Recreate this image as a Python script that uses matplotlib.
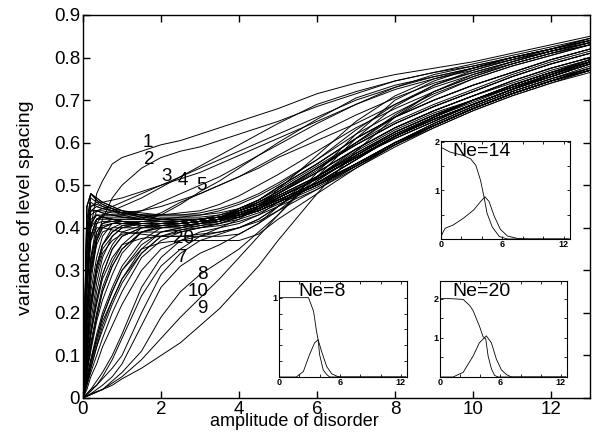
import matplotlib
matplotlib.use("Agg")
import matplotlib.pyplot as plt
from matplotlib.ticker import FixedLocator, FuncFormatter

plt.rcParams['font.family'] = ['Liberation Sans', 'DejaVu Sans']

# ---------------- main chart data ----------------
X = [0, 0.1, 0.2, 0.35, 0.5, 0.75, 1, 1.5, 2, 2.5, 3, 3.5, 4, 4.5, 5, 6, 7, 8, 9, 10, 11, 12, 13]

# labelled curves
curve_1 = [0, .30, .40, .48, .51, .55, .565, .58, .595, .605, .62, .635, .65, .665, .68, .715, .74, .76, .775, .79, .81, .83, .85]
curve_2 = [0, .15, .27, .37, .42, .47, .50, .54, .565, .58, .59, .605, .62, .635, .65, .685, .715, .745, .765, .785, .805, .825, .845]
curve_3 = [0, .20, .33, .41, .43, .44, .45, .47, .495, .52, .545, .57, .595, .62, .645, .69, .72, .745, .765, .78, .80, .82, .84]
curve_4 = [0, .25, .38, .42, .425, .425, .425, .425, .43, .455, .485, .51, .54, .57, .60, .655, .705, .735, .755, .775, .795, .815, .835]
curve_5 = [0, .35, .42, .43, .425, .42, .42, .42, .435, .46, .48, .50, .52, .54, .565, .605, .645, .69, .73, .76, .785, .81, .83]
curve_7 = [0, .005, .01, .02, .03, .05, .08, .17, .26, .31, .34, .36, .385, .41, .44, .51, .57, .625, .665, .70, .735, .765, .79]
curve_8 = [0, .005, .01, .015, .02, .04, .06, .11, .19, .25, .29, .32, .35, .39, .43, .52, .61, .685, .735, .77, .795, .815, .835]
curve_9 = [0, .004, .008, .014, .02, .03, .045, .07, .10, .13, .17, .21, .26, .31, .37, .48, .58, .66, .72, .76, .79, .815, .835]
curve_10 = [0, .004, .008, .014, .02, .035, .05, .09, .14, .19, .235, .28, .33, .38, .43, .53, .62, .70, .745, .775, .80, .82, .84]
curve_20 = [0, .25, .37, .40, .40, .395, .39, .385, .38, .38, .38, .38, .385, .41, .45, .52, .57, .62, .66, .70, .73, .76, .79]

# further curves joining the upper branch
upper_a = [0, .30, .40, .44, .445, .45, .46, .48, .50, .52, .54, .56, .58, .60, .62, .66, .70, .73, .755, .775, .80, .82, .845]
upper_b = [0, .35, .43, .44, .44, .435, .435, .44, .45, .465, .48, .50, .52, .545, .57, .62, .665, .705, .74, .765, .79, .815, .84]
upper_c = [0, .40, .46, .45, .445, .44, .435, .43, .43, .435, .44, .455, .475, .50, .525, .58, .635, .68, .72, .755, .785, .81, .835]
upper_d = [0, .28, .38, .42, .43, .43, .43, .43, .43, .43, .435, .445, .46, .48, .505, .56, .62, .67, .715, .75, .78, .805, .83]
upper_e = [0, .10, .20, .30, .35, .38, .40, .41, .41, .41, .415, .42, .43, .45, .48, .54, .60, .665, .72, .755, .785, .81, .83]
upper_f = [0, .38, .45, .46, .46, .465, .47, .485, .50, .515, .53, .55, .57, .59, .61, .65, .69, .73, .76, .78, .80, .82, .84]
upper_g = [0, .30, .41, .43, .43, .43, .43, .44, .46, .48, .50, .52, .545, .57, .595, .645, .69, .725, .75, .77, .795, .82, .845]
upper_h = [0, .20, .32, .39, .41, .42, .42, .42, .42, .425, .43, .44, .455, .475, .50, .56, .63, .69, .735, .765, .79, .815, .835]
upper_i = [0, .45, .48, .47, .46, .45, .44, .435, .43, .43, .43, .435, .445, .46, .48, .535, .60, .66, .71, .75, .78, .805, .83]
upper_j = [0, .01, .02, .03, .05, .09, .14, .24, .31, .35, .38, .40, .42, .45, .49, .57, .65, .71, .75, .775, .80, .82, .84]

# slow S-shaped curves
slow_a = [0, .01, .02, .04, .06, .10, .15, .26, .33, .37, .39, .40, .41, .43, .46, .52, .58, .63, .67, .70, .735, .765, .79]
slow_b = [0, .008, .016, .03, .045, .07, .10, .20, .29, .34, .37, .385, .40, .42, .45, .52, .585, .635, .675, .71, .74, .77, .795]

# lower bundle
lower_01 = [0, .42, .47, .46, .45, .44, .43, .42, .415, .415, .42, .425, .435, .45, .47, .515, .565, .615, .655, .69, .725, .755, .785]
lower_02 = [0, .40, .48, .47, .46, .45, .44, .43, .42, .42, .42, .425, .44, .455, .48, .53, .585, .635, .675, .71, .745, .775, .80]
lower_03 = [0, .38, .45, .455, .45, .445, .44, .43, .42, .415, .42, .425, .43, .445, .465, .505, .56, .615, .66, .70, .73, .76, .79]
lower_04 = [0, .33, .41, .43, .425, .42, .415, .41, .41, .41, .415, .42, .43, .44, .46, .50, .55, .60, .64, .68, .715, .745, .77]
lower_05 = [0, .30, .40, .42, .42, .42, .415, .41, .41, .415, .42, .425, .435, .45, .47, .515, .565, .615, .655, .69, .725, .755, .785]
lower_06 = [0, .22, .33, .39, .41, .415, .415, .41, .41, .41, .415, .42, .44, .455, .48, .53, .585, .635, .675, .71, .745, .775, .80]
lower_07 = [0, .20, .31, .38, .405, .41, .41, .41, .41, .415, .42, .43, .445, .465, .49, .545, .60, .65, .69, .725, .76, .79, .815]
lower_08 = [0, .15, .25, .33, .38, .41, .415, .415, .41, .41, .415, .42, .43, .445, .465, .505, .56, .615, .66, .70, .73, .76, .79]
lower_09 = [0, .13, .23, .31, .36, .40, .41, .415, .415, .415, .42, .425, .435, .45, .47, .515, .565, .615, .655, .69, .725, .755, .785]
lower_10 = [0, .10, .18, .27, .33, .38, .40, .41, .41, .41, .415, .42, .43, .44, .46, .50, .55, .60, .64, .68, .715, .745, .77]
lower_11 = [0, .09, .16, .25, .31, .36, .39, .405, .41, .415, .42, .425, .44, .455, .48, .53, .585, .635, .675, .71, .745, .775, .80]
lower_12 = [0, .07, .13, .20, .26, .32, .36, .40, .41, .41, .415, .42, .43, .445, .465, .505, .56, .615, .66, .70, .73, .76, .79]
lower_13 = [0, .06, .11, .18, .23, .29, .34, .39, .405, .41, .415, .42, .435, .45, .47, .515, .565, .615, .655, .69, .725, .755, .785]
lower_14 = [0, .05, .09, .15, .20, .26, .31, .37, .40, .405, .41, .415, .43, .44, .46, .50, .55, .60, .64, .68, .715, .745, .77]
lower_15 = [0, .04, .08, .13, .18, .23, .28, .35, .39, .40, .41, .415, .43, .445, .465, .505, .56, .615, .66, .70, .73, .76, .79]
lower_16 = [0, .03, .07, .12, .16, .22, .27, .34, .38, .39, .40, .41, .425, .44, .46, .50, .55, .60, .64, .68, .715, .745, .77]
lower_17 = [0, .03, .06, .10, .14, .20, .25, .33, .37, .39, .40, .41, .425, .445, .47, .515, .565, .615, .655, .69, .725, .755, .785]
lower_18 = [0, .02, .05, .08, .12, .17, .22, .30, .35, .37, .38, .39, .40, .42, .45, .51, .57, .62, .66, .70, .735, .765, .79]
lower_19 = [0, .35, .44, .45, .445, .44, .435, .43, .425, .425, .425, .43, .44, .455, .475, .52, .57, .62, .66, .695, .73, .76, .785]
lower_20 = [0, .26, .37, .41, .415, .415, .41, .405, .405, .405, .41, .415, .425, .44, .46, .50, .545, .595, .635, .675, .71, .74, .765]
lower_21 = [0, .18, .29, .36, .39, .40, .40, .40, .40, .40, .405, .41, .42, .435, .455, .495, .545, .595, .64, .68, .715, .745, .775]
lower_22 = [0, .12, .21, .29, .34, .37, .385, .39, .39, .395, .40, .405, .415, .43, .45, .49, .54, .59, .635, .675, .71, .74, .77]
lower_23 = [0, .08, .15, .22, .28, .33, .36, .375, .38, .38, .385, .39, .40, .415, .44, .49, .545, .60, .645, .685, .72, .75, .78]
lower_24 = [0, .045, .09, .14, .19, .25, .30, .35, .365, .37, .37, .37, .37, .385, .42, .48, .54, .595, .64, .68, .715, .745, .775]
lower_25 = [0, .45, .48, .465, .455, .445, .435, .425, .42, .42, .42, .425, .435, .45, .475, .52, .575, .625, .665, .70, .735, .765, .795]
lower_26 = [0, .38, .44, .44, .435, .43, .425, .42, .415, .415, .42, .425, .445, .465, .495, .55, .61, .66, .70, .735, .765, .795, .82]
lower_27 = [0, .28, .38, .42, .425, .42, .415, .41, .41, .41, .415, .42, .43, .445, .465, .505, .55, .60, .645, .685, .72, .75, .775]
lower_28 = [0, .18, .30, .37, .40, .41, .41, .41, .41, .41, .415, .42, .44, .46, .485, .54, .595, .645, .685, .72, .755, .785, .81]
lower_29 = [0, .12, .22, .31, .36, .39, .405, .41, .41, .41, .415, .42, .43, .445, .47, .515, .565, .61, .65, .69, .725, .76, .79]
lower_30 = [0, .08, .15, .23, .29, .35, .38, .40, .405, .41, .415, .42, .435, .45, .475, .52, .575, .625, .665, .70, .735, .765, .795]
lower_31 = [0, .06, .12, .19, .25, .31, .35, .39, .40, .405, .41, .42, .425, .44, .46, .50, .545, .595, .64, .68, .715, .745, .77]
lower_32 = [0, .04, .08, .14, .19, .25, .30, .36, .39, .40, .41, .415, .445, .465, .495, .55, .61, .66, .70, .735, .765, .795, .82]
lower_33 = [0, .035, .07, .12, .17, .23, .28, .34, .38, .395, .405, .415, .44, .46, .485, .54, .595, .645, .685, .72, .755, .785, .81]
lower_34 = [0, .38, .44, .44, .435, .43, .425, .42, .415, .415, .42, .425, .425, .44, .46, .50, .545, .595, .64, .68, .715, .745, .77]
lower_35 = [0, .28, .38, .42, .425, .42, .415, .41, .41, .41, .415, .42, .43, .445, .47, .515, .565, .61, .65, .69, .725, .76, .79]
lower_36 = [0, .18, .30, .37, .40, .41, .41, .41, .41, .41, .415, .42, .445, .465, .495, .55, .61, .66, .70, .735, .765, .795, .82]
lower_37 = [0, .12, .22, .31, .36, .39, .405, .41, .41, .41, .415, .42, .43, .445, .465, .505, .55, .60, .645, .685, .72, .75, .775]
lower_38 = [0, .08, .15, .23, .29, .35, .38, .40, .405, .41, .415, .42, .44, .46, .485, .54, .595, .645, .685, .72, .755, .785, .81]
lower_39 = [0, .06, .12, .19, .25, .31, .35, .39, .40, .405, .41, .42, .435, .45, .475, .52, .575, .625, .665, .70, .735, .765, .795]
lower_40 = [0, .45, .48, .465, .455, .445, .435, .425, .42, .42, .42, .425, .43, .445, .47, .515, .565, .61, .65, .69, .725, .76, .79]

main_curves = [curve_1, curve_2, curve_3, curve_4, curve_5, curve_7, curve_8, curve_9,
               curve_10, curve_20, upper_a, upper_b, upper_c, upper_d, upper_e,
               upper_f, upper_g, upper_h, upper_i, upper_j, slow_a, slow_b,
               lower_01, lower_02, lower_03, lower_04, lower_05, lower_06, lower_07,
               lower_08, lower_09, lower_10, lower_11, lower_12, lower_13, lower_14,
               lower_15, lower_16, lower_17, lower_18, lower_19, lower_20, lower_21,
               lower_22, lower_23, lower_24, lower_25, lower_26, lower_27, lower_28,
               lower_29, lower_30, lower_31, lower_32, lower_33, lower_34, lower_35,
               lower_36, lower_37, lower_38, lower_39, lower_40]

curve_labels = ["1", "2", "3", "4", "5", "20", "7", "8", "10", "9"]
label_x = [1.67, 1.70, 2.15, 2.56, 3.05, 2.57, 2.54, 3.05, 2.95, 3.05]
label_y = [0.600, 0.560, 0.520, 0.510, 0.500, 0.375, 0.330, 0.290, 0.250, 0.210]

x_ticks = [0, 2, 4, 6, 8, 10, 12]
y_ticks = [0, 0.1, 0.2, 0.3, 0.4, 0.5, 0.6, 0.7, 0.8, 0.9]
y_tick_labels = ["0", "0.1", "0.2", "0.3", "0.4", "0.5", "0.6", "0.7", "0.8", "0.9"]

# ---------------- inset data ----------------
ne8_x_step = [0, 1, 2, 2.5, 2.9, 3.4, 3.7, 3.85, 4.0, 4.35, 4.7, 5.0, 12.5]
ne8_y_step = [1.0, 1.0, 1.0, 1.0, 1.0, 0.83, 0.57, 0.47, 0.28, 0.09, 0.03, 0.0, 0.0]
ne8_x_peak = [0, 1.7, 2.4, 3.0, 3.5, 3.85, 4.2, 4.7, 5.2, 5.7, 6.0, 12.5]
ne8_y_peak = [0, 0.0, 0.07, 0.28, 0.43, 0.47, 0.32, 0.13, 0.04, 0.01, 0.0, 0.0]

ne14_x_step = [0, 0.9, 2.2, 2.9, 3.4, 3.86, 4.2, 4.5, 5.0, 5.7, 6.5, 12.5]
ne14_y_step = [1.89, 1.79, 1.72, 1.65, 1.52, 1.21, 0.87, 0.53, 0.25, 0.05, 0.0, 0.0]
ne14_x_peak = [0, 0.15, 0.4, 1.2, 2.2, 3.2, 3.86, 4.3, 4.7, 5.2, 5.8, 6.5, 7.5, 8.5, 12.5]
ne14_y_peak = [0.03, 0.12, 0.22, 0.29, 0.43, 0.60, 0.77, 0.87, 0.77, 0.47, 0.20, 0.06, 0.01, 0.0, 0.0]

ne20_x_step = [0, 1, 2.3, 2.96, 3.29, 3.94, 4.27, 4.54, 4.77, 5.1, 5.42, 5.75, 12.5]
ne20_y_step = [2.0, 2.0, 1.98, 1.82, 1.69, 1.28, 1.03, 0.97, 0.54, 0.21, 0.04, 0.0, 0.0]
ne20_x_peak = [0, 1.3, 2.3, 3.3, 3.9, 4.6, 5.1, 5.6, 6.1, 6.6, 7.1, 12.5]
ne20_y_peak = [0, 0.0, 0.12, 0.54, 0.87, 1.05, 0.87, 0.45, 0.18, 0.06, 0.0, 0.0]

inset_titles = ["Ne=14", "Ne=8", "Ne=20"]

# ---------------- figure ----------------
W, H = 597, 434
fig = plt.figure(figsize=(W / 100, H / 100), dpi=100)

def px_rect(l, t, r, b):
    return [l / W, 1 - b / H, (r - l) / W, (b - t) / H]

ax = fig.add_axes(px_rect(83, 15, 590, 398))
for yv in main_curves:
    ax.plot(X, yv, color='black', lw=0.7)
for t, lx, ly in zip(curve_labels, label_x, label_y):
    ax.text(lx, ly, t, fontsize=13.5, ha='center', va='center')

ax.set_xlim(0, 13)
ax.set_ylim(0, 0.9)
ax.set_xticks(x_ticks)
ax.set_yticks(y_ticks)
ax.set_yticklabels(y_tick_labels)
ax.tick_params(direction='in', length=5, width=1, top=True, right=True,
               labelsize=13.5, pad=2)
for s in ax.spines.values():
    s.set_linewidth(1.0)

fig.text(294 / W, 1 - 421 / H, "amplitude of disorder", fontsize=13,
         ha='center', va='center')
fig.text(25 / W, 1 - 208 / H, "variance of level spacing", fontsize=14,
         ha='center', va='center', rotation=90)

def make_inset(rect, ylim, yticks, ylabels, xs1, ys1, xs2, ys2, title, title_xy):
    a = fig.add_axes(px_rect(*rect))
    a.plot(xs1, ys1, color='black', lw=0.6)
    a.plot(xs2, ys2, color='black', lw=0.6)
    a.set_xlim(0, 12.6)
    a.set_ylim(*ylim)
    a.xaxis.set_major_locator(FixedLocator([0, 2, 4, 6, 8, 10, 12]))
    a.xaxis.set_major_formatter(FuncFormatter(
        lambda v, p: str(int(round(v))) if int(round(v)) in (0, 6, 12) else ""))
    a.yaxis.set_major_locator(FixedLocator(yticks))
    a.yaxis.set_major_formatter(FuncFormatter(
        lambda v, p: ylabels.get(round(v, 2), "")))
    a.tick_params(direction='in', length=2.5, width=0.6, top=True, right=True,
                  labelsize=6.5, pad=1)
    for lab in a.get_xticklabels() + a.get_yticklabels():
        lab.set_fontweight('bold')
    for s in a.spines.values():
        s.set_linewidth(0.8)
    fig.text(title_xy[0] / W, 1 - title_xy[1] / H, title, fontsize=14,
             ha='center', va='center')
    return a

make_inset((441, 141, 570, 239), (0, 2.02), [0, 0.5, 1, 1.5, 2], {1.0: "1", 2.0: "2"},
           ne14_x_step, ne14_y_step, ne14_x_peak, ne14_y_peak, inset_titles[0], (482, 151))
make_inset((279, 281, 407, 377), (0, 1.21), [0, 0.2, 0.4, 0.6, 0.8, 1.0], {1.0: "1"},
           ne8_x_step, ne8_y_step, ne8_x_peak, ne8_y_peak, inset_titles[1], (322, 291))
make_inset((440, 281, 567, 377), (0, 2.45), [0, 0.5, 1, 1.5, 2], {1.0: "1", 2.0: "2"},
           ne20_x_step, ne20_y_step, ne20_x_peak, ne20_y_peak, inset_titles[2], (481, 291))

fig.savefig("out.png", dpi=100)
